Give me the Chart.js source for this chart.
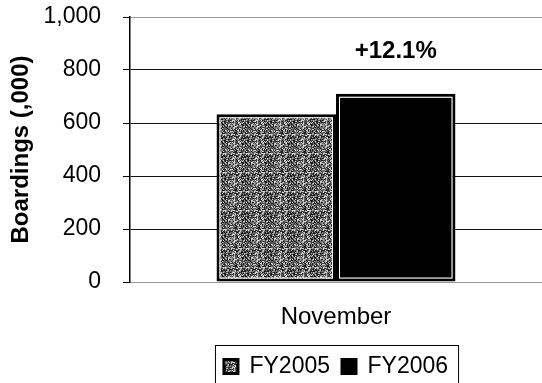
<!DOCTYPE html>
<html>
<head>
<meta charset="utf-8">
<script src="https://cdn.jsdelivr.net/npm/chart.js@4/dist/chart.umd.min.js"></script>
<style>
  html, body { margin: 0; padding: 0; background: #fff; }
  #wrap { width: 542px; height: 383px; }
</style>
</head>
<body>
<div id="wrap"><canvas id="chart"></canvas></div>
<script>
// ================= DATA =================
const categories = ["November"];
const seriesNames = ["FY2005", "FY2006"];
const fy2005 = [633];
const fy2006 = [710];
const changeLabels = ["+12.1%"];
const yMin = 0, yMax = 1000, yStep = 200;

const FONT = "'Liberation Sans', Arial, sans-serif";

// ================= FILL TEXTURE =================
// speckled grey like the printed original (fixed hash, not data)
function speckle() {
  const c = document.createElement("canvas");
  c.width = 23; c.height = 19;
  const g = c.getContext("2d");
  const shades = ["#151515", "#4a4a4a", "#7a7a7a", "#a8a8a8", "#2c2c2c", "#d2d2d2", "#606060"];
  for (let y = 0; y < c.height; y++) {
    for (let x = 0; x < c.width; x++) {
      const h = (((x + 1) * 2654435761) ^ ((y + 3) * 40503 * 97)) >>> 0;
      g.fillStyle = shades[(h >>> 7) % shades.length];
      g.fillRect(x, y, 1, 1);
    }
  }
  return g.createPattern(c, "repeat");
}

// ================= PLUGINS =================
// white inner edge on bars
const barEdge = {
  id: "barEdge",
  afterDatasetsDraw(chart) {
    const ctx = chart.ctx;
    ctx.save();
    ctx.strokeStyle = "#ffffff";
    ctx.lineWidth = 1;
    chart.data.datasets.forEach((ds, i) => {
      chart.getDatasetMeta(i).data.forEach(bar => {
        const l = bar.x - bar.width / 2, r = bar.x + bar.width / 2;
        ctx.strokeRect(l + 3.5, bar.y + 3.5, r - l - 7, bar.base - bar.y - 7);
      });
    });
    ctx.restore();
  }
};

// percentage change label above the FY2006 bar
const changeLabel = {
  id: "changeLabel",
  afterDatasetsDraw(chart) {
    const ctx = chart.ctx;
    const meta = chart.getDatasetMeta(1);
    ctx.save();
    ctx.font = "bold 24px " + FONT;
    ctx.fillStyle = "#000";
    ctx.textAlign = "center";
    ctx.textBaseline = "middle";
    meta.data.forEach((bar, i) => {
      ctx.fillText(changeLabels[i], bar.x, bar.y - 42);
    });
    ctx.restore();
  }
};

// box round the legend
const legendBox = {
  id: "legendBox",
  afterDraw(chart) {
    const hb = chart.legend.legendHitBoxes;
    if (!hb || !hb.length) return;
    const first = hb[0], last = hb[hb.length - 1];
    const ctx = chart.ctx;
    ctx.save();
    ctx.strokeStyle = "#000";
    ctx.lineWidth = 1;
    ctx.strokeRect(first.left - 8.5, first.top - 9.5, last.left + last.width - first.left + 19, 60);
    ctx.restore();
  }
};

// ================= CHART =================
const ctx = document.getElementById("chart").getContext("2d");

new Chart(ctx, {
  type: "bar",
  data: {
    labels: categories,
    datasets: [
      {
        label: seriesNames[0],
        data: fy2005,
        backgroundColor: speckle(),
        borderColor: "#000",
        borderWidth: 3,
        borderSkipped: false
      },
      {
        label: seriesNames[1],
        data: fy2006,
        backgroundColor: "#000",
        borderColor: "#000",
        borderWidth: 3,
        borderSkipped: false
      }
    ]
  },
  options: {
    responsive: true,
    maintainAspectRatio: false,
    animation: false,
    devicePixelRatio: 1,
    layout: { padding: { top: 17, right: 0, bottom: -5, left: 0 } },
    datasets: {
      bar: { barPercentage: 1, categoryPercentage: 0.58 }
    },
    scales: {
      x: {
        grid: { display: false },
        border: { display: true, color: "#999", width: 1 },
        ticks: { color: "#000", font: { family: FONT, size: 24 }, padding: 13 },
        afterFit: s => { s.height = 61; }
      },
      y: {
        min: yMin,
        max: yMax,
        border: { display: true, color: "#000", width: 1.5 },
        grid: {
          color: c => (c.tick && (c.tick.value === yMin || c.tick.value === yMax)) ? "#9a9a9a" : "#111",
          tickColor: "#000",
          tickLength: 7,
          lineWidth: 1
        },
        ticks: {
          stepSize: yStep,
          color: "#000",
          padding: 22,
          font: { family: FONT, size: 23 },
          callback: v => v.toLocaleString("en-US")
        },
        title: {
          display: true,
          text: "Boardings (,000)",
          color: "#000",
          font: { family: FONT, size: 24, weight: "bold" },
          padding: { top: 7, bottom: 0 }
        },
        afterFit: s => {
          s.width = 130;
          s.paddingTop = 0;
          s.paddingBottom = 0;
        }
      }
    },
    plugins: {
      legend: {
        position: "bottom",
        fullSize: false,
        labels: {
          color: "#000",
          boxWidth: 14,
          boxHeight: 14,
          padding: 12,
          font: { family: FONT, size: 23 }
        }
      },
      tooltip: { enabled: false }
    }
  },
  plugins: [barEdge, changeLabel, legendBox]
});
</script>
</body>
</html>
